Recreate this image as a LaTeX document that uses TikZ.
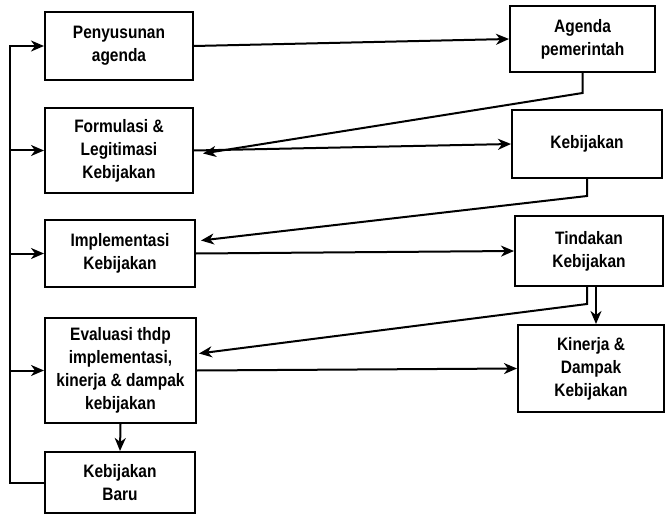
\documentclass[tikz,border=0pt]{standalone}
\usepackage{fontspec}
\setmainfont{Liberation Sans}[FakeStretch=0.86]
\usetikzlibrary{arrows.meta,calc}
\begin{document}
\begin{tikzpicture}[x=1pt,y=-1pt,
  box/.style={draw,line width=2pt,rectangle,align=center,inner sep=2pt,
    font=\fontsize{18}{23}\selectfont\bfseries},
  arr/.style={line width=2pt,-{Stealth[length=13pt,width=11pt,inset=4pt]}},
  ln/.style={line width=2pt}]
\useasboundingbox[fill=white] (0,0) rectangle (667,524);
% left column
\node[box,minimum width=148pt,minimum height=68pt] (pa) at (119,46) {Penyusunan\\agenda};
\node[box,minimum width=148pt,minimum height=85pt] (fl) at (119,150.5) {Formulasi \&\\Legitimasi\\Kebijakan};
\node[box,minimum width=150pt,minimum height=67pt] (im) at (120,253.5) {Implementasi\\Kebijakan};
\node[box,minimum width=151pt,minimum height=105pt] (ev) at (120.5,370.5) {Evaluasi thdp\\implementasi,\\kinerja \& dampak\\kebijakan};
\node[box,minimum width=150pt,minimum height=61pt] (kb) at (120,482.5) {Kebijakan\\Baru};
% right column
\node[box,minimum width=145pt,minimum height=66pt] (ap) at (582.5,39) {Agenda\\pemerintah};
\node[box,minimum width=150pt,minimum height=68pt] (kj) at (587,144) {Kebijakan};
\node[box,minimum width=148pt,minimum height=70pt] (tk) at (589,251) {Tindakan\\Kebijakan};
\node[box,minimum width=146pt,minimum height=87pt] (kd) at (591,368.5) {Kinerja \&\\Dampak\\Kebijakan};
% feedback loop on the left
\coordinate (lx) at (10,0);
\draw[arr] (kb.west) -- (kb.west -| lx) |- (pa.west);
\draw[arr] (fl.west -| lx) -- (fl.west);
\draw[arr] (im.west -| lx) -- (im.west);
\draw[arr] (ev.west -| lx) -- (ev.west);
% forward arrows
\draw[arr] (pa.east) -- (ap.west);
\draw[arr] (fl.east) -- (kj.west);
\draw[arr] (im.east) -- (tk.west);
\draw[arr] (ev.east) -- (kd.west);
\draw[arr] (ev.south) -- (kb.north);
\draw[arr] ([xshift=7pt]tk.south) -- ([xshift=7pt]tk.south |- kd.north);
% return arrows
\coordinate (r1) at ($(ap.south)+(0,20)$);
\coordinate (t1) at ($(fl.east)+(9,3)$);
\draw[arr] (ap.south) -- (r1) -- (t1);
\coordinate (r2) at ($(kj.south)+(0,17)$);
\coordinate (t2) at ($(im.east)+(5,-13)$);
\draw[arr] (kj.south) -- (r2) -- (t2);
\coordinate (r3) at ($([xshift=-2pt]tk.south)+(0,17)$);
\coordinate (t3) at ($(ev.east)+(2,-17)$);
\draw[arr] ([xshift=-2pt]tk.south) -- (r3) -- (t3);
\end{tikzpicture}
\end{document}
